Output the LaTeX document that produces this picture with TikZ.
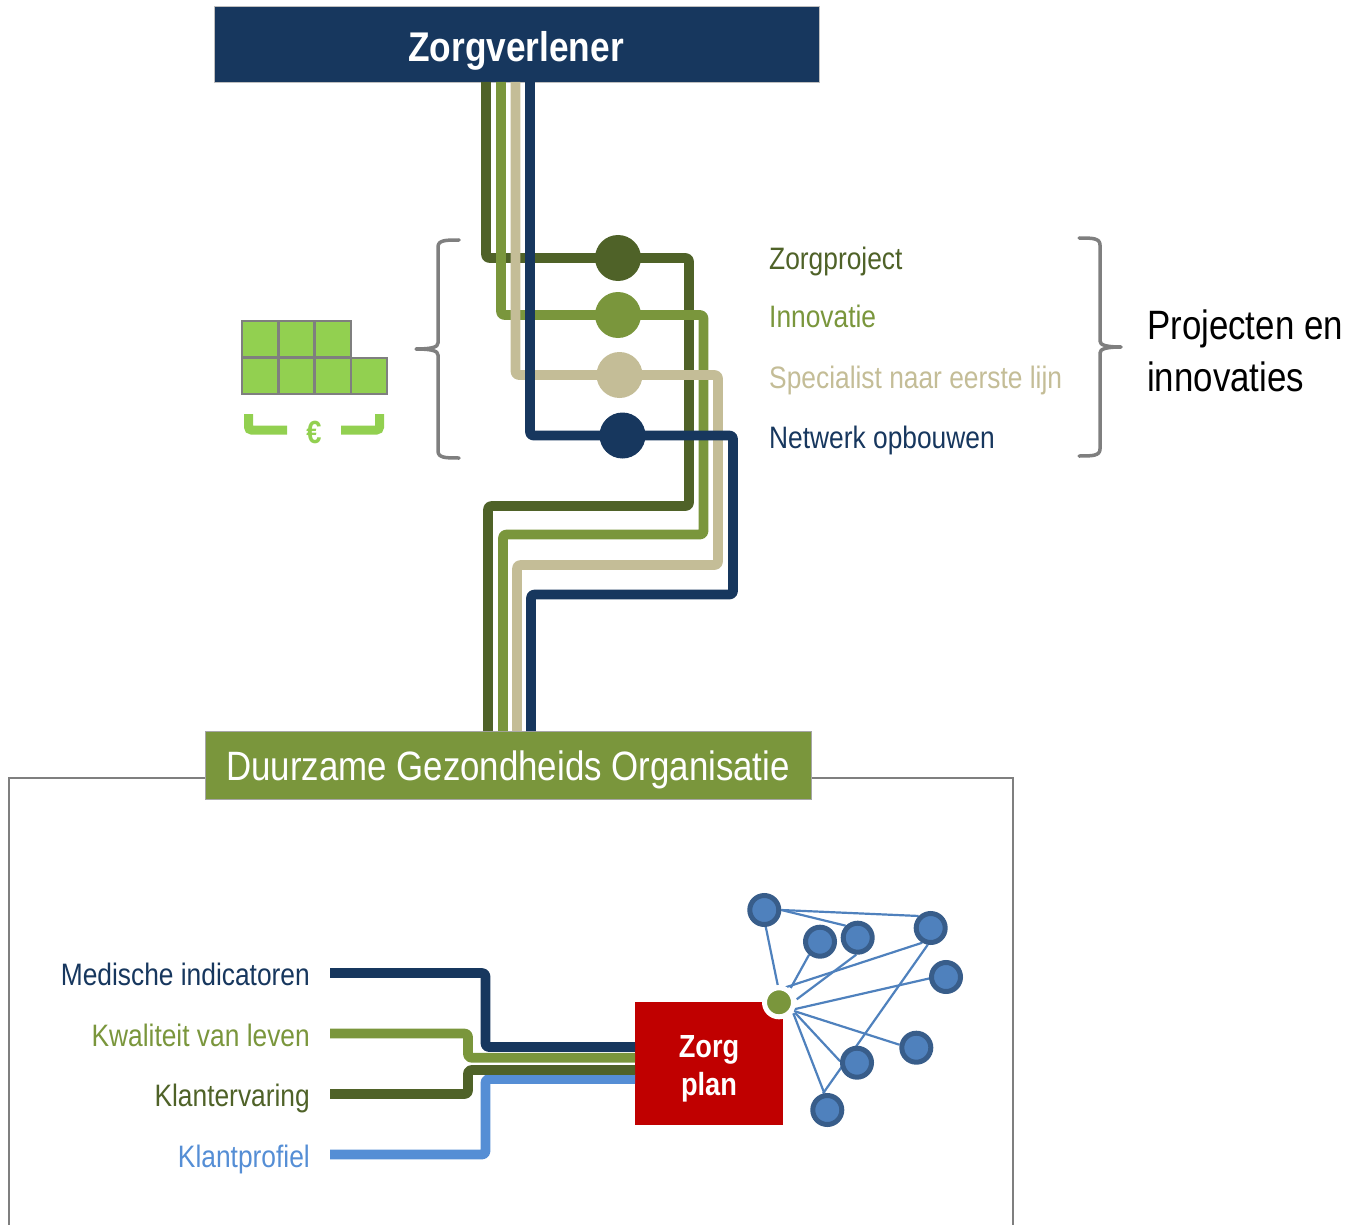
\documentclass[tikz,border=0pt]{standalone}
\usepackage{fontspec}
\setmainfont[FakeStretch=0.85]{Liberation Sans}
\usetikzlibrary{backgrounds}
\definecolor{navy}{HTML}{17375E}
\definecolor{dgreen}{HTML}{4F6228}
\definecolor{mgreen}{HTML}{7A963C}
\definecolor{tan}{HTML}{C4BD97}
\definecolor{lblue}{HTML}{558ED5}
\definecolor{lime}{HTML}{92D050}
\definecolor{frame}{HTML}{7F7F7F}
\definecolor{netfill}{HTML}{4F81BD}
\definecolor{netline}{HTML}{385D8A}
\definecolor{zred}{HTML}{C00000}
\tikzset{
  wire/.style={line width=9.6pt,rounded corners=3pt,line join=round},
  dot/.style={circle,inner sep=0pt,minimum width=44pt},
  lab/.style={font=\fontsize{31}{31}\selectfont,anchor=base west,inner sep=0pt},
  rlab/.style={font=\fontsize{31}{31}\selectfont,anchor=base east,inner sep=0pt},
  cell/.style={draw=frame,fill=lime,line width=2.4pt,minimum size=36.3pt,inner sep=0pt,outer sep=0pt,anchor=north west},
  brace/.style={draw=frame,line width=3.5pt,line cap=round,line join=round},
  brk/.style={draw=lime,line width=9pt,rounded corners=3pt},
  net/.style={circle,draw=netline,fill=netfill,line width=5pt,minimum width=29pt,inner sep=0pt},
  netedge/.style={draw=netfill,line width=2.2pt},
  box/.style={draw=black!25,line width=1pt,inner sep=0pt,outer sep=0pt,anchor=north west}
}
\begin{document}
\begin{tikzpicture}[x=1pt,y=-1pt]
\useasboundingbox (0,0) rectangle (1352,1225);
% frame
\coordinate (fl) at (9,1225);
\coordinate (fr) at (1013,1225);
\draw[frame,line width=2.4pt] (205,778) -- (9,778) -- (fl);
\draw[frame,line width=2.4pt] (811,778) -- (1013,778) -- (fr);
% boxes
\node[box,fill=navy,minimum width=605pt,minimum height=76pt] (zv) at (214,6.5) {};
\node[anchor=base,inner sep=0pt,text=white,font=\fontsize{41.5}{41.5}\selectfont\bfseries] (zvt) at (516,61.5) {Zorgverlener};
\node[box,fill=mgreen,minimum width=606pt,minimum height=68pt,draw=black!35] (dgo) at (205,731) {};
\node[anchor=base,inner sep=0pt,text=white,font=\fontsize{41}{41}\selectfont] (dgot) at (508,780.3) {Duurzame Gezondheids Organisatie};
% top wires
\coordinate (a0) at (486,82); \coordinate (a1) at (488,731);
\coordinate (b0) at (501,82); \coordinate (b1) at (503,731);
\coordinate (c0) at (515.5,82); \coordinate (c1) at (517,731);
\coordinate (d0) at (530,82); \coordinate (d1) at (531,731);
\draw[wire,dgreen] (a0) -- (486,258) -- (689,258) -- (689,506) -- (488,506) -- (a1);
\draw[wire,mgreen] (b0) -- (501,315) -- (703.5,315) -- (703.5,534.5) -- (503,534.5) -- (b1);
\draw[wire,tan] (c0) -- (515.5,375) -- (718,375) -- (718,565) -- (517,565) -- (c1);
\draw[wire,navy] (d0) -- (530,435.5) -- (733,435.5) -- (733,594.5) -- (531,594.5) -- (d1);
% dots
\node[dot,fill=dgreen,minimum height=46pt] (pa) at (618,258) {};
\node[dot,fill=mgreen,minimum height=46pt] (pb) at (618,315) {};
\node[dot,fill=tan,minimum height=46pt] (pc) at (619.5,375) {};
\node[dot,fill=navy,minimum height=46pt] (pd) at (622.5,435.5) {};
% project labels
\node[lab,text=dgreen] (la) at (769,269.7) {Zorgproject};
\node[lab,text=mgreen] (lb) at (769,327) {Innovatie};
\node[lab,text=tan] (lc) at (769,388) {Specialist naar eerste lijn};
\node[lab,text=navy] (ld) at (769,448) {Netwerk opbouwen};
\node[anchor=base west,inner sep=0pt,font=\fontsize{41}{41}\selectfont] (pi1) at (1147,339) {Projecten en};
\node[anchor=base west,inner sep=0pt,font=\fontsize{41}{41}\selectfont] (pi2) at (1147,391) {innovaties};
% braces
\draw[brace] (459,240) .. controls (446,240) and (438,240) .. (438,247) -- (438,343) .. controls (438,347) and (432,349) .. (416,349) .. controls (432,349) and (438,351) .. (438,355) -- (438,451) .. controls (438,458) and (446,458) .. (459,458);
\draw[brace] (1079,238) .. controls (1092,238) and (1100,238) .. (1100,245) -- (1100,341) .. controls (1100,345) and (1106,347) .. (1121,347) .. controls (1106,347) and (1100,349) .. (1100,353) -- (1100,449) .. controls (1100,456) and (1092,456) .. (1079,456);
% budget
\node[cell] (g1) at (242,321) {};
\node[cell] (g2) at (278.3,321) {};
\node[cell] (g3) at (314.6,321) {};
\node[cell] (g4) at (242,357.8) {};
\node[cell] (g5) at (278.3,357.8) {};
\node[cell] (g6) at (314.6,357.8) {};
\node[cell] (g7) at (350.9,357.8) {};
\draw[brk] (248.5,414) -- (248.5,430) -- (287,430);
\draw[brk] (379.5,414) -- (379.5,430) -- (341,430);
\node[anchor=base,inner sep=0pt,text=lime,font=\fontsize{32}{32}\selectfont\bfseries] (eur) at (314,443) {€};
% care plan
\node[draw=none,fill=zred,minimum width=148pt,minimum height=123pt,inner sep=0pt,outer sep=0pt,anchor=north west] (zp) at (635,1002) {};
\node[anchor=base,inner sep=0pt,text=white,font=\fontsize{32}{32}\selectfont\bfseries] (zp1) at (709,1057.3) {Zorg};
\node[anchor=base,inner sep=0pt,text=white,font=\fontsize{32}{32}\selectfont\bfseries] (zp2) at (709,1095.3) {plan};
% indicators
\node[rlab,text=navy] (i1) at (310,985) {Medische indicatoren};
\node[rlab,text=mgreen] (i2) at (310,1046) {Kwaliteit van leven};
\node[rlab,text=dgreen] (i3) at (310,1106) {Klantervaring};
\node[rlab,text=lblue] (i4) at (310,1167) {Klantprofiel};
\coordinate (s1) at (330,973); \coordinate (s2) at (330,1033.5); \coordinate (s3) at (330,1094); \coordinate (s4) at (330,1154.5);
\draw[wire,navy] (s1) -- (485.5,973) -- (485.5,1047) -- (635,1047);
\draw[wire,lblue] (s4) -- (485.5,1154.5) -- (485.5,1079) -- (635,1079);
\draw[wire,mgreen] (s2) -- (468,1033.5) -- (468,1057.7) -- (635,1057.7);
\draw[wire,dgreen] (s3) -- (468,1094) -- (468,1070) -- (635,1070);
% network
\node[circle,fill=mgreen,draw=white,line width=5pt,minimum width=29pt,inner sep=0pt] (hub) at (779,1002.3) {};
\node[net] (n1) at (764.3,910) {};
\node[net] (n2) at (820,941.7) {};
\node[net] (n3) at (857.7,937.7) {};
\node[net] (n4) at (930.7,928) {};
\node[net] (n5) at (946,977) {};
\node[net] (n6) at (916.3,1047.7) {};
\node[net] (n7) at (857,1062.7) {};
\node[net] (n8) at (827.3,1110) {};
\coordinate (h1) at (777.7,985);
\coordinate (h2) at (790.7,988);
\coordinate (h3) at (796.7,999.3);
\coordinate (h4) at (785.7,987.3);
\coordinate (h5) at (794,1009.3);
\coordinate (h6) at (794,1011);
\coordinate (h7) at (795,1012.7);
\coordinate (h8) at (793.3,1013.3);
\begin{scope}[on background layer]
\draw[netedge] (n1.275) -- (h1);
\draw[netedge] (n2.230) -- (h2);
\draw[netedge] (n3.265) -- (h3);
\draw[netedge] (n4.240) -- (h4);
\draw[netedge] (n5.185) -- (h5);
\draw[netedge] (n6.170) -- (h6);
\draw[netedge] (n7.175) -- (h7);
\draw[netedge] (n8.100) -- (h8);
\draw[netedge] (n1.east) -- (n3.north west);
\draw[netedge] (n1.east) -- (n4.north west);
\draw[netedge] (n4.260) -- (n8.105);
\end{scope}
\end{tikzpicture}
\end{document}
